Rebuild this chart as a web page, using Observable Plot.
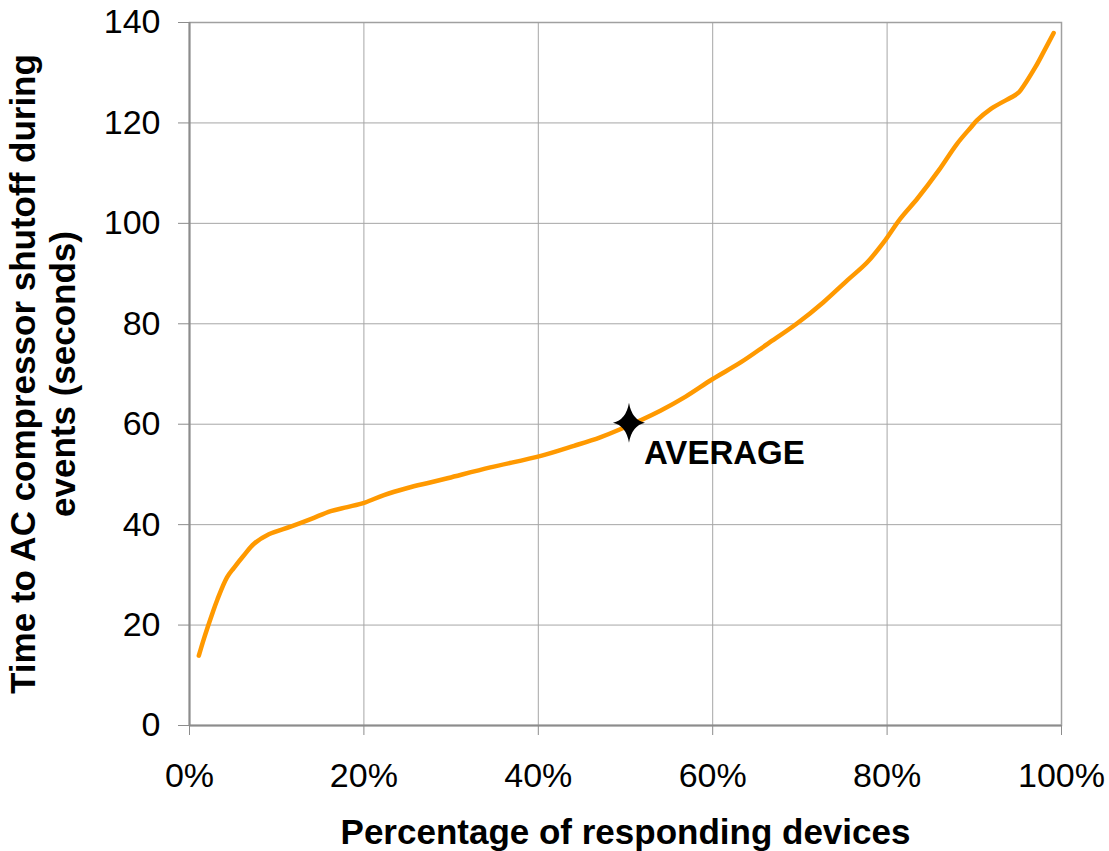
<!DOCTYPE html>
<html>
<head>
<meta charset="utf-8">
<script src="https://cdn.jsdelivr.net/npm/d3@7"></script>
<script src="https://cdn.jsdelivr.net/npm/@observablehq/plot@0.6"></script>
<style>
  html, body { margin: 0; padding: 0; background: #fff; }
  #chart svg { display: block; }
</style>
</head>
<body>
<div id="chart"></div>
<script>
// Percentage of responding devices (%)
const pct = [1.07, 1.64, 2.6, 3.2, 4.3, 5.1, 6.2, 7.4, 9.1, 11.6, 13.9, 16.2, 18.1, 20.1, 22.3, 25.0, 27.6, 29.7, 34.5, 40.3, 44.1, 47.1, 49.4, 54.0, 56.9, 60.0, 63.2, 66.3, 69.7, 72.7, 75.4, 77.7, 79.6, 81.5, 83.5, 85.9, 88.0, 89.6, 90.3, 91.9, 94.9, 95.3, 97.0, 98.0, 99.1];
// Time to AC compressor shutoff (seconds)
const secs = [13.9, 17.2, 22.2, 25.1, 29.5, 31.4, 33.8, 36.2, 38.1, 39.6, 41.1, 42.7, 43.5, 44.4, 45.9, 47.3, 48.4, 49.3, 51.4, 53.7, 55.7, 57.4, 59.0, 62.7, 65.5, 69.0, 72.3, 76.0, 80.1, 84.3, 88.6, 92.2, 96.2, 100.9, 105.0, 110.5, 115.8, 119.1, 120.5, 122.8, 125.8, 126.5, 131.1, 134.3, 137.9];

const avgPct = [50.4];
const avgSecs = [60.3];
const avgLabel = ["AVERAGE"];

const xTicks = [0, 20, 40, 60, 80, 100];
const yTicks = [0, 20, 40, 60, 80, 100, 120, 140];

const xTitle = "Percentage of responding devices";
const yTitle = "Time to AC compressor shutoff during\nevents (seconds)";

const curve = pct.map((p, i) => ({p, s: secs[i]}));
const avg = avgPct.map((p, i) => ({p, s: avgSecs[i], label: avgLabel[i]}));

const star4 = {
  draw(ctx, size) {
    const r = Math.sqrt(size / Math.PI);
    const h = r, w = r * 0.8, k = r * 0.24;
    ctx.moveTo(0, -h);
    ctx.quadraticCurveTo(k * 0.6, -k * 0.6, w, 0);
    ctx.quadraticCurveTo(k * 0.6, k * 0.6, 0, h);
    ctx.quadraticCurveTo(-k * 0.6, k * 0.6, -w, 0);
    ctx.quadraticCurveTo(-k * 0.6, -k * 0.6, 0, -h);
    ctx.closePath();
  }
};

const chart = Plot.plot({
  width: 1109,
  height: 851,
  marginLeft: 189,
  marginRight: 48,
  marginTop: 22,
  marginBottom: 126,
  style: {fontFamily: "'Liberation Sans', Arial, sans-serif", fontSize: "34px", color: "#000", background: "#fff"},
  x: {domain: [0, 100], label: null},
  y: {domain: [0, 140], label: null},
  marks: [
    Plot.gridX(xTicks, {stroke: "#a6a6a6", strokeOpacity: 1, strokeWidth: 1}),
    Plot.gridY(yTicks, {stroke: "#a6a6a6", strokeOpacity: 1, strokeWidth: 1}),
    Plot.frame({stroke: "#a0a0a0", strokeWidth: 1.5}),
    Plot.ruleX([0], {stroke: "#8c8c8c", strokeWidth: 2}),
    Plot.ruleY([0], {stroke: "#8c8c8c", strokeWidth: 2}),
    Plot.axisX(xTicks, {tickFormat: d => d + "%", tickSize: 10, tickPadding: 27, stroke: "#8c8c8c", label: null, fontSize: 34}),
    Plot.axisY(yTicks, {tickSize: 11, tickPadding: 18, stroke: "#8c8c8c", label: null, fontSize: 34}),
    Plot.line(curve, {x: "p", y: "s", stroke: "#FF9900", strokeWidth: 4.5, curve: "catmull-rom", strokeLinecap: "round", strokeLinejoin: "round"}),
    Plot.dot(avg, {x: "p", y: "s", symbol: star4, r: 20, fill: "#000", stroke: "none"}),
    Plot.text(avg, {x: "p", y: "s", text: "label", textAnchor: "start", lineAnchor: "middle", dx: 15, dy: 31, fontSize: 33, fontWeight: "bold", fill: "#000"}),
    Plot.text([xTitle], {frameAnchor: "bottom", textAnchor: "middle", dy: 107, lineAnchor: "middle", fontSize: 35, fontWeight: "bold", fill: "#000"}),
    Plot.text([yTitle], {frameAnchor: "left", textAnchor: "middle", dx: -147, rotate: -90, lineAnchor: "middle", lineHeight: 1.12, fontSize: 35, fontWeight: "bold", fill: "#000"})
  ]
});
document.getElementById("chart").appendChild(chart);
</script>
</body>
</html>
